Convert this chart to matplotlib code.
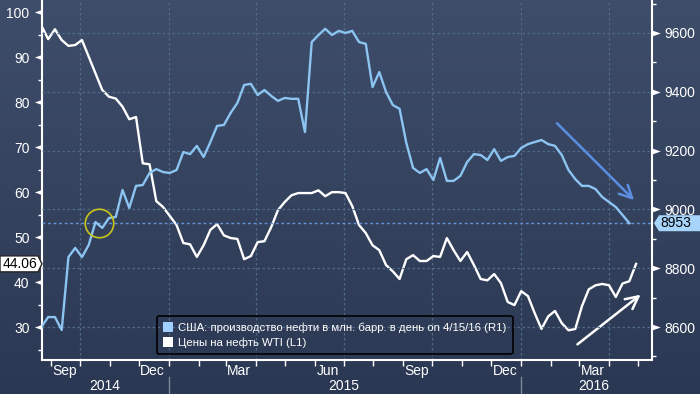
import matplotlib
matplotlib.use('Agg')
import matplotlib.pyplot as plt
import matplotlib.dates as mdates
from matplotlib.colors import LinearSegmentedColormap
from matplotlib.patches import Patch, Polygon
from matplotlib.path import Path
from matplotlib.transforms import IdentityTransform, blended_transform_factory
import numpy as np
import pandas as pd

plt.rcParams['font.family'] = ['Liberation Sans', 'DejaVu Sans']

# weekly observations (Fridays)
weeks = pd.date_range('2014-08-22', '2016-04-29', freq='7D')

# US crude output, thousand bbl/day (right axis)
us_output = [8600, 8634, 8634, 8590, 8838, 8869, 8838, 8879, 8957, 8937,
             8971, 8974, 9066, 9005, 9080, 9083, 9124, 9137, 9127, 9124,
             9134, 9195, 9188, 9216, 9178, 9229, 9284, 9287, 9328, 9362,
             9423, 9427, 9389, 9406, 9386, 9369, 9379, 9376, 9376, 9263,
             9569, 9593, 9614, 9593, 9607, 9600, 9607, 9569, 9563, 9416,
             9467, 9399, 9355, 9342, 9226, 9141, 9124, 9137, 9100, 9175,
             9097, 9097, 9114, 9161, 9188, 9185, 9168, 9205, 9165, 9178,
             9182, 9209, 9222, 9229, 9236, 9222, 9216, 9185, 9134, 9103,
             9080, 9080, 9069, 9042, 9025, 9008, 8981, 8953]

# WTI price, $/bbl (left axis)
wti_price = [97.0, 94.0, 96.2, 93.8, 92.5, 92.7, 93.8, 90.1, 86.4, 82.7,
             81.2, 80.8, 79.0, 76.2, 76.7, 66.4, 66.2, 58.0, 56.7, 54.7,
             52.7, 48.7, 48.4, 45.6, 48.2, 51.6, 52.9, 50.4, 49.8, 49.6,
             45.1, 45.8, 48.9, 49.1, 52.2, 56.0, 57.8, 59.3, 59.8, 59.8,
             59.8, 60.4, 59.1, 60.0, 60.0, 59.8, 56.9, 52.7, 50.9, 48.2,
             47.1, 43.8, 42.4, 40.7, 45.1, 46.0, 44.7, 44.7, 45.8, 45.6,
             49.8, 47.1, 44.7, 46.7, 43.8, 40.7, 40.4, 41.8, 39.8, 35.6,
             34.9, 38.0, 36.9, 33.1, 29.6, 32.4, 33.6, 30.9, 29.3, 29.6,
             34.7, 38.4, 39.3, 39.6, 39.3, 36.7, 39.7, 40.2, 44.06]

labels = ['США: производство нефти в млн. барр. в день on 4/15/16 (R1)',
          'Цены на нефть WTI (L1)']
month_labels = ['2014-09-15', '2014-12-15', '2015-03-15', '2015-06-15',
                '2015-09-15', '2015-12-15', '2016-03-15']
quarters = ['2014-10-01', '2015-01-01', '2015-04-01', '2015-07-01',
            '2015-10-01', '2016-01-01', '2016-04-01']
years = [('2014', '2014-10-27'), ('2015', '2015-07-01'), ('2016', '2016-03-16')]
left_ticks = list(range(30, 101, 10))
right_ticks = list(range(8600, 9601, 200))

BLUE = '#8cc4f2'
GRID = '#4f6b86'
W, H = 700, 394
FS = 10

fig = plt.figure(figsize=(7, 3.94), dpi=100)
bg = fig.add_axes([0, 0, 1, 1], zorder=-10)
cmap = LinearSegmentedColormap.from_list('bg', ['#3e4d6a', '#2b3853'])
bg.imshow(np.linspace(0, 1, 256).reshape(-1, 1), aspect='auto', cmap=cmap,
          extent=[0, 1, 0, 1])
bg.axis('off')

ax = fig.add_axes([42 / W, 1 - 360 / H, 610 / W, 360 / H])
ax.set_facecolor('none')
ax2 = ax.twinx()

ax.plot(weeks, wti_price, color='white', lw=1.7, zorder=3)
ax2.plot(weeks[:len(us_output)], us_output, color=BLUE, lw=1.7, zorder=3)

x0 = mdates.date2num(pd.Timestamp('2014-10-01')) - 39.4
x1 = mdates.date2num(pd.Timestamp('2016-04-01')) + 44.5
ax.set_xlim(x0, x1)
ax.set_ylim(22.7, 102.7)
ax2.set_ylim(8488, 9712)

# grid
ax2.set_yticks(right_ticks)
ax2.set_yticks(range(8500, 9701, 200), minor=True)
ax2.grid(axis='y', which='major', color=GRID, ls=(0, (2, 2)), lw=0.9)
for q in quarters:
    ax.axvline(pd.Timestamp(q), color=GRID, ls=(0, (2, 2)), lw=0.9, zorder=1)
ax2.axhline(us_output[-1], color='#6694dc', ls=(0, (2, 2)), lw=1.0, zorder=2)

ax.set_yticks(left_ticks)
ax.set_yticks(range(25, 100, 10), minor=True)

ax.tick_params(axis='y', which='major', length=8, width=0, colors='white',
               labelsize=FS, pad=1)
ax.tick_params(axis='y', which='minor', length=3, width=1, color='white')
ax2.tick_params(axis='y', which='major', length=8, width=0, colors='white',
                labelsize=FS, pad=1)
ax2.tick_params(axis='y', which='minor', length=3, width=1, color='white')

# flag-shaped tick marks
left_tri = Path([(0, 0.35), (-1, 0), (0, -0.35), (0, 0.35)])
right_tri = Path([(0, 0.35), (1, 0), (0, -0.35), (0, 0.35)])
trl = blended_transform_factory(ax.transAxes, ax.transData)
ax.plot([0] * len(left_ticks), left_ticks, ls='none', marker=left_tri, ms=11,
        color='white', mew=0, transform=trl, clip_on=False, zorder=6)
trr = blended_transform_factory(ax2.transAxes, ax2.transData)
ax2.plot([1] * len(right_ticks), right_ticks, ls='none', marker=right_tri,
         ms=12, color='white', mew=0, transform=trr, clip_on=False, zorder=6)

ax.xaxis.set_major_locator(mdates.MonthLocator())
ax.xaxis.set_major_formatter(plt.NullFormatter())
ax.xaxis.set_minor_locator(plt.FixedLocator(
    [mdates.date2num(pd.Timestamp(m)) for m in month_labels]))
ax.xaxis.set_minor_formatter(mdates.DateFormatter('%b'))
ax.tick_params(axis='x', which='major', length=4, width=1, color='white')
ax.tick_params(axis='x', which='minor', length=0, labelcolor='white',
               labelsize=FS, pad=3)

for s in ['top', 'right']:
    ax.spines[s].set_visible(False)
for s in ['top', 'left', 'bottom']:
    ax2.spines[s].set_visible(False)
for sp in [ax.spines['left'], ax.spines['bottom'], ax2.spines['right']]:
    sp.set_color('white')
    sp.set_linewidth(1.5)

# years under the month labels
tr = blended_transform_factory(ax.transData, ax.transAxes)
for text, d in years:
    ax.text(pd.Timestamp(d), -0.072, text, transform=tr, color='white',
            fontsize=FS, ha='center', va='center')
for d in ['2015-01-01', '2016-01-01']:
    ax.plot([pd.Timestamp(d)] * 2, [-0.047, -0.1], transform=tr,
            color='#7c8899', lw=1, clip_on=False)

# legend
handles = [Patch(facecolor='#9fd0ff', edgecolor='none'),
           Patch(facecolor='white', edgecolor='none')]
leg = ax2.legend(handles, labels, loc='lower left',
                 bbox_to_anchor=(0.1885, 0.0167), borderaxespad=0,
                 fontsize=8.2, handlelength=0.9, handleheight=0.9,
                 handletextpad=0.4, borderpad=0.55, labelspacing=0.35,
                 fancybox=True, edgecolor='black', facecolor='none',
                 labelcolor='white', framealpha=1)
leg.get_frame().set_linewidth(1.2)

# annotations
ax2.plot(pd.Timestamp('2014-10-21'), 8954, 'o', ms=20.5, mfc='none',
         mec='#c9c61a', mew=1.2, zorder=5)
ax2.annotate('', xy=(pd.Timestamp('2016-04-29'), 9025),
             xytext=(pd.Timestamp('2016-02-05'), 9300),
             arrowprops=dict(arrowstyle='->,head_length=0.9,head_width=0.45',
                             color='#5b8de0', lw=1.8), annotation_clip=False)
ax.annotate('', xy=(pd.Timestamp('2016-05-06'), 37.6),
            xytext=(pd.Timestamp('2016-02-26'), 25.8),
            arrowprops=dict(arrowstyle='->,head_length=0.9,head_width=0.45',
                            color='white', lw=1.8), annotation_clip=False)

# last value tags
ident = IdentityTransform()
yl = ax.transData.transform((x0, wti_price[-1]))[1]
fig.add_artist(Polygon([(0, yl + 8), (38, yl + 8), (42, yl), (38, yl - 8),
                        (0, yl - 8)], closed=True, facecolor='white',
                       edgecolor='#222222', lw=1, transform=ident, zorder=7))
fig.text(20 / W, yl / H, f'{wti_price[-1]:.2f}', color='black', fontsize=FS,
         ha='center', va='center', zorder=8)
yr = ax2.transData.transform((x0, us_output[-1]))[1]
fig.add_artist(Polygon([(654, yr), (659, yr + 8), (700, yr + 8),
                        (700, yr - 8), (659, yr - 8)], closed=True,
                       facecolor='#a6d4fb', edgecolor='none', transform=ident,
                       zorder=7))
fig.text(676 / W, yr / H, f'{us_output[-1]}', color='black', fontsize=FS,
         ha='center', va='center', zorder=8)

fig.savefig('out.png', dpi=100)
